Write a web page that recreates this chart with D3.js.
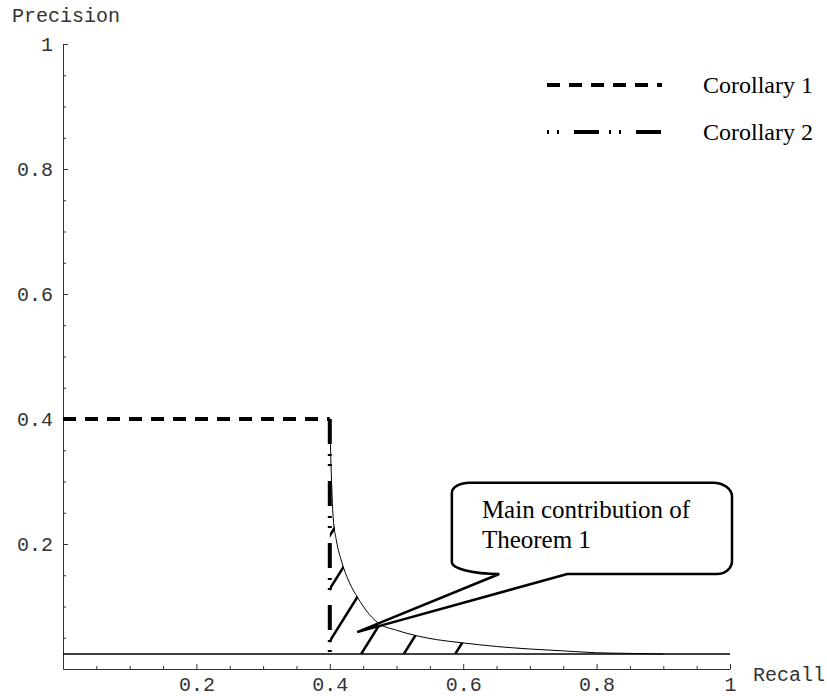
<!DOCTYPE html>
<html>
<head>
<meta charset="utf-8">
<script src="https://cdn.jsdelivr.net/npm/d3@7"></script>
<style>
  body { margin: 0; background: #fff; }
  svg { display: block; }
</style>
</head>
<body>
<div id="chart"></div>
<script>
// values
var recall    = [0.400, 0.402, 0.405, 0.410, 0.418, 0.430, 0.442, 0.455, 0.472, 0.500, 0.531, 0.560, 0.598, 0.650, 0.700, 0.750, 0.800, 0.850, 0.900];
var precision = [0.400, 0.320, 0.243, 0.205, 0.171, 0.137, 0.114, 0.093, 0.074, 0.062, 0.053, 0.047, 0.042, 0.036, 0.032, 0.029, 0.026, 0.025, 0.024];
var baseline = 0.024;            // lower horizontal line
var cor1Recall = [0, 0.4];       // Corollary 1: precision 0.4 up to recall 0.4
var cor1Precision = 0.4;
var cor2Recall = 0.4;            // Corollary 2: vertical at recall 0.4
var hatchStarts = [0.289, 0.339, 0.388, 0.447, 0.511, 0.588];
var xTicks = [0.2, 0.4, 0.6, 0.8, 1];
var yTicks = [0.2, 0.4, 0.6, 0.8, 1];
var minorTicks = d3.range(1, 20).map(i => i * 0.05).filter(v => Math.abs(v * 5 - Math.round(v * 5)) > 1e-6);
var legendLabels = ["Corollary 1", "Corollary 2"];
var calloutLines = ["Main contribution of", "Theorem 1"];
// callout anchors, in data units
var callout = {left: 0.583, right: 1.003, top: 0.298, bottom: 0.152, tipR: 0.441, tipP: 0.059, baseR1: 0.654, baseR2: 0.756, textR: 0.628, textP: [0.2416, 0.1936]};

var width = 827, height = 696;
var x = d3.scaleLinear().domain([0, 1]).range([63, 730]);
var y = d3.scaleLinear().domain([0, 1]).range([669, 44]);

var svg = d3.select("#chart").append("svg")
    .attr("width", width)
    .attr("height", height);

var mono = "'Liberation Mono', 'DejaVu Sans Mono', monospace";
var serif = "'Liberation Serif', 'DejaVu Serif', serif";
var fmt = d => d === 1 ? "1" : d.toFixed(1);

// axes, ticks pointing into the plot
var xAxis = svg.append("g")
    .attr("transform", `translate(0,${y(0)})`)
    .call(d3.axisBottom(x).tickValues(xTicks).tickFormat(fmt).tickSizeInner(-5).tickSizeOuter(0).tickPadding(8));
svg.append("g")
    .attr("transform", `translate(0,${y(0)})`)
    .call(d3.axisBottom(x).tickValues(minorTicks).tickFormat("").tickSizeInner(-3).tickSizeOuter(0))
    .select(".domain").remove();

var yAxis = svg.append("g")
    .attr("transform", `translate(${x(0)},0)`)
    .call(d3.axisLeft(y).tickValues(yTicks).tickFormat(fmt).tickSizeInner(-5).tickSizeOuter(0).tickPadding(10));
svg.append("g")
    .attr("transform", `translate(${x(0)},0)`)
    .call(d3.axisLeft(y).tickValues(minorTicks).tickFormat("").tickSizeInner(-3).tickSizeOuter(0))
    .select(".domain").remove();

svg.selectAll(".domain, .tick line").attr("stroke", "#333").attr("stroke-width", 1);
svg.selectAll(".tick text")
    .style("font-family", mono)
    .style("font-size", "20px")
    .attr("fill", "#333");

svg.append("text")
    .attr("x", 12).attr("y", 22)
    .style("font-family", mono).style("font-size", "20px").attr("fill", "#333")
    .text("Precision");
svg.append("text")
    .attr("x", 753).attr("y", 681)
    .style("font-family", mono).style("font-size", "20px").attr("fill", "#333")
    .text("Recall");

var curve = recall.map((r, i) => [r, precision[i]]);

// hatched region between curve and baseline
var area = d3.area().x(d => x(d[0])).y0(y(baseline)).y1(d => y(d[1]));
svg.append("clipPath").attr("id", "hatchClip")
  .append("path").attr("d", area(curve));

var hatchSlope = 1.6, hatchLen = 200;
svg.append("g").attr("clip-path", "url(#hatchClip)")
  .selectAll("line")
  .data(hatchStarts)
  .enter().append("line")
    .attr("x1", d => x(d))
    .attr("y1", y(baseline))
    .attr("x2", d => x(d) + hatchLen)
    .attr("y2", y(baseline) - hatchSlope * hatchLen)
    .attr("stroke", "#000")
    .attr("stroke-width", 2.5);

// baseline
svg.append("line")
    .attr("x1", x(0)).attr("x2", x(1))
    .attr("y1", y(baseline)).attr("y2", y(baseline))
    .attr("stroke", "#000").attr("stroke-width", 1.6);

// Theorem 1 curve
svg.append("path")
    .datum(curve)
    .attr("d", d3.line().x(d => x(d[0])).y(d => y(d[1])).curve(d3.curveMonotoneX))
    .attr("fill", "none")
    .attr("stroke", "#000")
    .attr("stroke-width", 1);

// Corollary 1 (dashed)
var dash1 = "13 9", dash2 = "25 10 2 8 2 15";
svg.append("line")
    .attr("x1", x(cor1Recall[0])).attr("x2", x(cor1Recall[1]))
    .attr("y1", y(cor1Precision)).attr("y2", y(cor1Precision))
    .attr("stroke", "#000").attr("stroke-width", 4)
    .attr("stroke-dasharray", dash1);

// Corollary 2 (dash-dot)
svg.append("line")
    .attr("x1", x(cor2Recall)).attr("x2", x(cor2Recall))
    .attr("y1", y(cor1Precision)).attr("y2", y(baseline))
    .attr("stroke", "#000").attr("stroke-width", 4)
    .attr("stroke-dasharray", dash2);

// legend
var legend = svg.append("g");
legendLabels.forEach(function(lbl, i) {
  var ly = 85 + i * 47;
  legend.append("line")
      .attr("x1", 547).attr("x2", 662)
      .attr("y1", ly).attr("y2", ly)
      .attr("stroke", "#000").attr("stroke-width", 4)
      .attr("stroke-dasharray", i === 0 ? dash1 : "2 8 2 15 25 10");
  legend.append("text")
      .attr("x", 703).attr("y", ly + 8)
      .style("font-family", serif).style("font-size", "24px")
      .attr("fill", "#000")
      .text(lbl);
});

// callout box with pointer
var L = x(callout.left), R = x(callout.right), T = y(callout.top), B = y(callout.bottom);
var b1 = x(callout.baseR1), b2 = x(callout.baseR2);
var tipX = x(callout.tipR), tipY = y(callout.tipP);
var p = d3.path();
p.moveTo(L + 18, T);
p.lineTo(R - 19, T);
var d = p.toString()
  + ` A 19 14 0 0 1 ${R} ${T + 14}`
  + ` V ${B - 13}`
  + ` A 15 13 0 0 1 ${R - 15} ${B}`
  + ` H ${b2} L ${tipX} ${tipY} L ${b1} ${B}`
  + ` A ${b1 - L} 12 0 0 1 ${L} ${B - 12}`
  + ` V ${T + 10}`
  + ` A 18 10 0 0 1 ${L + 18} ${T} Z`;
svg.append("path")
    .attr("d", d)
    .attr("fill", "#fff")
    .attr("stroke", "#000")
    .attr("stroke-width", 2.5)
    .attr("stroke-linejoin", "miter");

svg.selectAll(".callout-text")
  .data(calloutLines)
  .enter().append("text")
    .attr("class", "callout-text")
    .attr("x", x(callout.textR))
    .attr("y", (t, i) => y(callout.textP[i]))
    .style("font-family", serif).style("font-size", "25px")
    .attr("fill", "#000")
    .text(t => t);
</script>
</body>
</html>
